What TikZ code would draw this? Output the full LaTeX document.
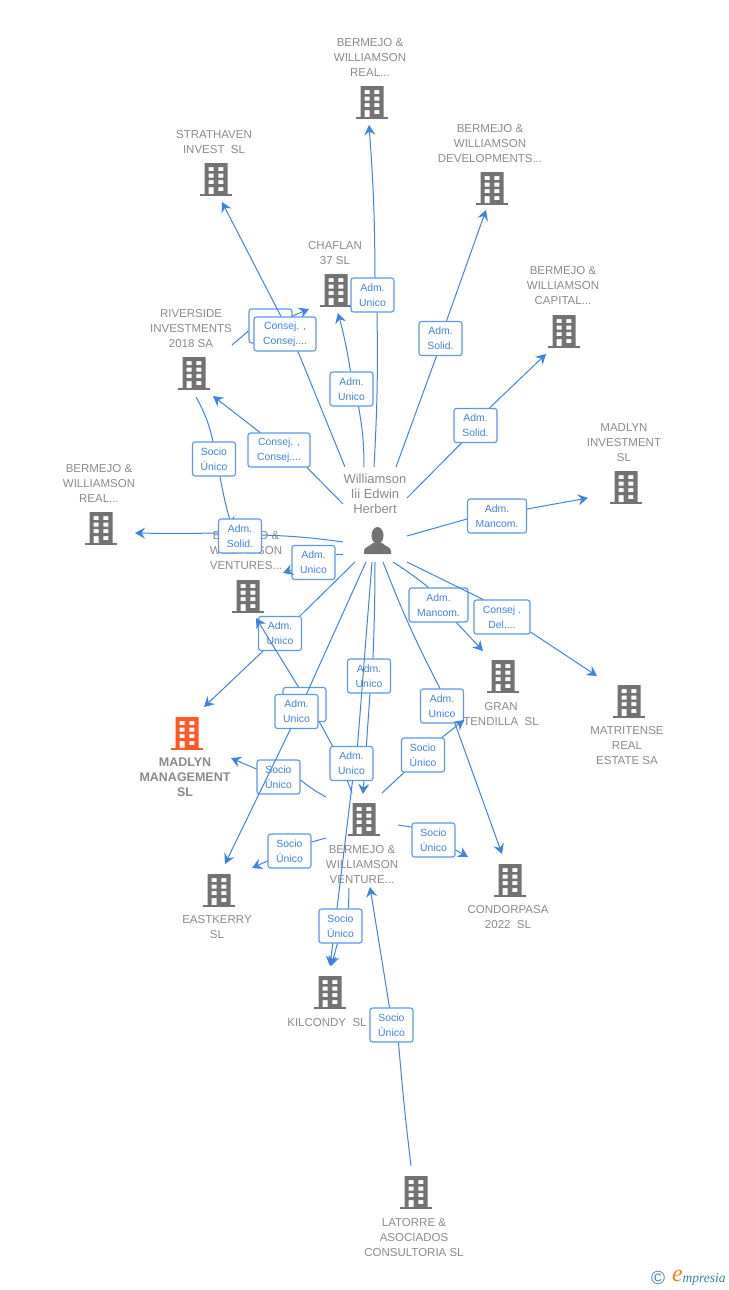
\documentclass[tikz,border=0pt]{standalone}
\usepackage{fontspec}
\setmainfont{Liberation Sans}
\newfontfamily\logofont{Liberation Serif}
\usetikzlibrary{arrows.meta}
\definecolor{linkblue}{HTML}{3F83E0}
\definecolor{boxblue}{HTML}{5C97E8}
\definecolor{txtgray}{HTML}{8A8A8A}
\definecolor{icongray}{HTML}{737373}
\definecolor{iconorange}{HTML}{FF5A26}
\definecolor{logoteal}{HTML}{3F7F9F}
\definecolor{logoorange}{HTML}{F08020}
\tikzset{
  bldg/.pic={
    \fill[even odd rule] (-11.5,-33) rectangle (11.5,-2)
      (-7.3,-29) rectangle (-2.3,-25) (2.3,-29) rectangle (7.3,-25)
      (-7.3,-22.3) rectangle (-2.3,-18.3) (2.3,-22.3) rectangle (7.3,-18.3)
      (-7.3,-15.8) rectangle (-2.3,-11.8) (2.3,-15.8) rectangle (7.3,-11.8)
      (-7.3,-9) rectangle (-2.3,-2) (2.3,-9) rectangle (7.3,-5);
    \fill (-16,-2.5) rectangle (16,0);
  },
  lbl/.style={align=center,text=txtgray,font=\fontsize{11.5}{15}\selectfont},
  rolebox/.style={draw=boxblue,fill=white,line width=1.1pt,rounded corners=2.5pt,inner sep=0pt,
    minimum width=43pt,minimum height=34pt,align=center,text=linkblue,font=\fontsize{10.4}{15}\selectfont},
  link/.style={draw=linkblue,line width=1pt},
  tolink/.style={link,-{Stealth[length=10pt,width=11pt,inset=3.5pt]}}
}
\begin{document}
\begin{tikzpicture}[x=1pt,y=-1pt]
  \useasboundingbox (0,0) rectangle (728,1290);
  % buildings
  \pic[fill=icongray] at (372,119) {bldg};
  \pic[fill=icongray] at (216,196) {bldg};
  \pic[fill=icongray] at (492,205) {bldg};
  \pic[fill=icongray] at (336,307) {bldg};
  \pic[fill=icongray] at (564,348) {bldg};
  \pic[fill=icongray] at (194,390) {bldg};
  \pic[fill=icongray] at (626,504) {bldg};
  \pic[fill=icongray] at (101,545) {bldg};
  \pic[fill=icongray] at (248,613) {bldg};
  \pic[fill=icongray] at (503,693) {bldg};
  \pic[fill=icongray] at (629,718) {bldg};
  \pic[fill=iconorange] at (187,750) {bldg};
  \pic[fill=icongray] at (364,836) {bldg};
  \pic[fill=icongray] at (219,907) {bldg};
  \pic[fill=icongray] at (510,897) {bldg};
  \pic[fill=icongray] at (330,1009) {bldg};
  \pic[fill=icongray] at (416,1209) {bldg};
  % names
  \node[lbl] (txtRealTop) at (370,57.5) {BERMEJO \&\\WILLIAMSON\\REAL...};
  \node[lbl] (txtStrath) at (214,142) {STRATHAVEN\\INVEST\ \ SL};
  \node[lbl] (txtDevel) at (490,143.5) {BERMEJO \&\\WILLIAMSON\\DEVELOPMENTS...};
  \node[lbl] (txtChaflan) at (335,253) {CHAFLAN\\37 SL};
  \node[lbl] (txtCapital) at (563,285.5) {BERMEJO \&\\WILLIAMSON\\CAPITAL...};
  \node[lbl] (txtRiver) at (191,328.5) {RIVERSIDE\\INVESTMENTS\\2018 SA};
  \node[lbl] (txtInvest) at (624,442.5) {MADLYN\\INVESTMENT\\SL};
  \node[lbl] (txtRealLeft) at (99,483.5) {BERMEJO \&\\WILLIAMSON\\REAL...};
  \node[lbl] (txtVentures) at (246,550.5) {BERMEJO \&\\WILLIAMSON\\VENTURES...};
  \node[lbl] (txtGran) at (501,714) {GRAN\\TENDILLA\ \ SL};
  \node[lbl] (txtMatri) at (627,745.5) {MATRITENSE\\REAL\\ESTATE SA};
  \node[lbl,font=\fontsize{12.5}{15}\selectfont\bfseries] (txtMgmt) at (185,777.5) {MADLYN\\MANAGEMENT\\SL};
  \node[lbl] (txtVenture) at (362,864.5) {BERMEJO \&\\WILLIAMSON\\VENTURE...};
  \node[lbl] (txtEast) at (217,927) {EASTKERRY\\SL};
  \node[lbl] (txtCondor) at (508,917) {CONDORPASA\\2022\ \ SL};
  \node[lbl] (txtKilc) at (327,1022.5) {KILCONDY\ \ SL};
  \node[lbl] (txtLat) at (414,1237.5) {LATORRE \&\\ASOCIADOS\\CONSULTORIA SL};
  % the person
  \node[lbl,font=\fontsize{13}{15}\selectfont] (txtWilliamson) at (375,493.5) {Williamson\\Iii Edwin\\Herbert};
  \fill[icongray] (377.5,535.5) ellipse (6 and 8.5);
  \fill[icongray] (364,554) -- (364,551) .. controls (364,547) and (369,547) .. (373,543) -- (382,543)
    .. controls (386,547) and (391,547) .. (391,551) -- (391,554) -- cycle;
  % free ends of the connectors
  \coordinate (pA) at (374,467);
  \coordinate (pB) at (364,467);
  \coordinate (pC) at (396,467);
  \coordinate (pD) at (407,498);
  \coordinate (pE) at (407,536);
  \coordinate (pF) at (393,562);
  \coordinate (pG) at (407,562);
  \coordinate (pH) at (383,562);
  \coordinate (pI) at (375,562);
  \coordinate (pJ) at (372,562);
  \coordinate (pK) at (366,562);
  \coordinate (pL) at (355,562);
  \coordinate (pM) at (343,554);
  \coordinate (pN) at (343,542);
  \coordinate (pO) at (343,504);
  \coordinate (pP) at (345,467);
  \coordinate (rvOut) at (232,345);
  \coordinate (rvDown) at (196,397);
  \coordinate (vnA) at (326,797);
  \coordinate (vnB) at (326,838);
  \coordinate (vnC) at (398,825);
  \coordinate (vnD) at (382,793);
  \coordinate (vnE) at (349,888);
  \coordinate (vnF) at (352,793);
  \coordinate (ltOut) at (411,1166);
  \coordinate (toRealTop) at (369,125);
  \coordinate (toStrath) at (222,202);
  \coordinate (toDevel) at (486,210);
  \coordinate (toChaflanA) at (338,313);
  \coordinate (toChaflanB) at (309,309);
  \coordinate (toCapital) at (546,354);
  \coordinate (toRiver) at (213,396);
  \coordinate (toInvest) at (588,498);
  \coordinate (toRealLeft) at (135,533);
  \coordinate (toVenturesA) at (283,573);
  \coordinate (toVenturesB) at (232,527);
  \coordinate (toVenturesC) at (256,618);
  \coordinate (toGranA) at (483,651);
  \coordinate (toGranB) at (464,720);
  \coordinate (toMatri) at (597,676);
  \coordinate (toCondorA) at (502,854);
  \coordinate (toCondorB) at (468,857);
  \coordinate (toMgmtA) at (204,707);
  \coordinate (toMgmtB) at (231,758);
  \coordinate (toVenture) at (363,794);
  \coordinate (toVentureB) at (370,887);
  \coordinate (toEastA) at (225,864);
  \coordinate (toEastB) at (252,868);
  \coordinate (toKilcA) at (330,966);
  \coordinate (toKilcB) at (331,966);
  % upper half
  \node[rolebox] (rvSocio) at (270.5,326) {};
  \draw[link] (rvOut) -- ([yshift=-5pt]rvSocio.west);
  \draw[tolink] ([yshift=10pt]rvSocio.east) -- (toChaflanB);
  \node[rolebox,minimum width=62pt] (strConsej) at (285,334) {Consej. ,\\Consej....};
  \draw[link] (pP) -- ([xshift=13pt]strConsej.south);
  \draw[tolink] ([xshift=-4pt]strConsej.north) -- (toStrath);
  \node[rolebox] (chaAdm) at (351.5,389) {Adm.\\Unico};
  \draw[link] (pB) to[bend right=5] ([xshift=7pt]chaAdm.south);
  \draw[tolink] ([xshift=-1pt]chaAdm.north) to[bend right=3] (toChaflanA);
  \node[rolebox] (realAdm) at (372.5,295) {Adm.\\Unico};
  \draw[link] (pA) to[bend right=2] ([xshift=4.5pt]realAdm.south);
  \draw[tolink] ([xshift=2.5pt]realAdm.north) to[bend right=2] (toRealTop);
  \node[rolebox] (devAdm) at (440.5,338.5) {Adm.\\Solid.};
  \draw[link] (pC) -- ([xshift=-4pt]devAdm.south);
  \draw[tolink] ([xshift=6pt]devAdm.north) -- (toDevel);
  \node[rolebox] (capAdm) at (475.5,425.5) {Adm.\\Solid.};
  \draw[link] (pD) -- ([xshift=-14pt]capAdm.south);
  \draw[tolink] ([xshift=14pt]capAdm.north) -- (toCapital);
  \node[rolebox,minimum width=59pt] (invAdm) at (497,516) {Adm.\\Mancom.};
  \draw[link] (pE) -- ([yshift=-3pt]invAdm.west);
  \draw[tolink] ([yshift=7pt]invAdm.east) -- (toInvest);
  \node[rolebox,minimum width=62pt] (rivConsej) at (279,450) {Consej. ,\\Consej....};
  \draw[link] (pO) -- ([xshift=28pt]rivConsej.south);
  \draw[tolink] ([xshift=-19pt]rivConsej.north) -- (toRiver);
  \node[rolebox] (ventSocio) at (214,459) {Socio\\Único};
  \draw[link] (rvDown) to[bend left=8] ([xshift=-1pt]ventSocio.north);
  \draw[tolink] ([xshift=6pt]ventSocio.south) to[bend right=3] (toVenturesB);
  \node[rolebox] (leftAdm) at (240,536) {Adm.\\Solid.};
  \draw[link] (pN) to[bend right=3] ([yshift=1pt]leftAdm.east);
  \draw[tolink] ([yshift=3pt]leftAdm.west) to[bend left=1] (toRealLeft);
  \node[rolebox] (ventAdm) at (313.5,562.5) {Adm.\\Unico};
  \draw[link] (pM) -- ([yshift=8.5pt]ventAdm.east);
  \draw[tolink] ([yshift=-7.5pt]ventAdm.west) -- (toVenturesA);
  % right side
  \node[rolebox,minimum width=59pt] (granAdm) at (438.5,605) {Adm.\\Mancom.};
  \draw[link] (pF) to[bend left=3] ([xshift=-10pt]granAdm.north);
  \draw[tolink] ([xshift=18pt]granAdm.south) -- (toGranA);
  \node[rolebox,minimum width=56pt] (matConsej) at (502,617) {Consej .\\Del....};
  \draw[link] (pG) -- ([xshift=-19pt]matConsej.north);
  \draw[tolink] ([yshift=-15pt]matConsej.east) -- (toMatri);
  \node[rolebox] (condAdm) at (442,706) {Adm.\\Unico};
  \draw[link] (pH) to[bend right=3] ([xshift=-2pt]condAdm.north);
  \draw[tolink] ([xshift=13pt]condAdm.south) -- (toCondorA);
  % lower half
  \node[rolebox] (mgmtSocio) at (278.5,777) {Socio\\Único};
  \node[rolebox] (mgmtAdm) at (280,633.5) {Adm.\\Unico};
  \draw[link] (pL) -- ([xshift=20pt]mgmtAdm.north);
  \draw[tolink] ([xshift=-17pt]mgmtAdm.south) -- (toMgmtA);
  \draw[link] (vnA) to[bend left=5] ([yshift=-3pt]mgmtSocio.east);
  \draw[tolink] ([yshift=8pt]mgmtSocio.west) -- (toMgmtB);
  \node[rolebox] (topAdm) at (369,676) {Adm.\\Unico};
  \draw[link] (pI) to[bend left=1] ([xshift=4pt]topAdm.north);
  \draw[tolink] ([xshift=1pt]topAdm.south) -- (toVenture);
  \node[rolebox] (kilAdm) at (351.5,763.5) {Adm.\\Unico};
  \draw[link] (pJ) -- ([xshift=6pt]kilAdm.north);
  \draw[tolink] ([xshift=1pt]kilAdm.south) -- (toKilcA);
  \node[rolebox] (hidAdm) at (304.5,704.5) {};
  \draw[link] (vnF) -- ([xshift=-4pt]kilAdm.south);
  \draw[link] ([xshift=-19pt]kilAdm.north) -- ([xshift=15pt]hidAdm.south);
  \draw[tolink] ([xshift=-6pt]hidAdm.north) -- (toVenturesC);
  \node[rolebox] (eastAdm) at (296.5,711.5) {Adm.\\Unico};
  \draw[link] (pK) -- ([xshift=10pt]eastAdm.north);
  \draw[tolink] ([xshift=-6pt]eastAdm.south) -- (toEastA);
  \node[rolebox] (eastSocio) at (289.5,851) {Socio\\Único};
  \draw[link] (vnB) -- ([yshift=9pt]eastSocio.east);
  \draw[tolink] ([yshift=-10pt]eastSocio.west) -- (toEastB);
  \node[rolebox] (condSocio) at (433.5,840) {Socio\\Único};
  \draw[link] (vnC) -- ([yshift=13pt]condSocio.west);
  \draw[tolink] ([yshift=-10pt]condSocio.east) -- (toCondorB);
  \node[rolebox] (granSocio) at (423,755) {Socio\\Único};
  \draw[link] (vnD) -- ([xshift=-19pt]granSocio.south);
  \draw[tolink] ([xshift=19pt]granSocio.north) -- (toGranB);
  \node[rolebox] (kilSocio) at (340.5,926) {Socio\\Único};
  \draw[link] (vnE) -- ([xshift=8pt]kilSocio.north);
  \draw[tolink] ([xshift=-3pt]kilSocio.south) -- (toKilcB);
  \node[rolebox] (latSocio) at (391.5,1025) {Socio\\Único};
  \draw[link] (ltOut) to[bend left=1] ([xshift=7pt]latSocio.south);
  \draw[tolink] ([xshift=-2pt]latSocio.north) -- (toVentureB);
  % logo
  \node[text=logoteal,font=\fontsize{19}{19}\selectfont] (logoC) at (658,1278) {©};
  \node[text=logoorange,font=\logofont\itshape\fontsize{24}{24}\selectfont] (logoE) at (677.5,1276) {e};
  \node[text=logoteal,font=\logofont\itshape\fontsize{13.5}{13}\selectfont] (logoM) at (704,1279) {mpresia};
\end{tikzpicture}
\end{document}
